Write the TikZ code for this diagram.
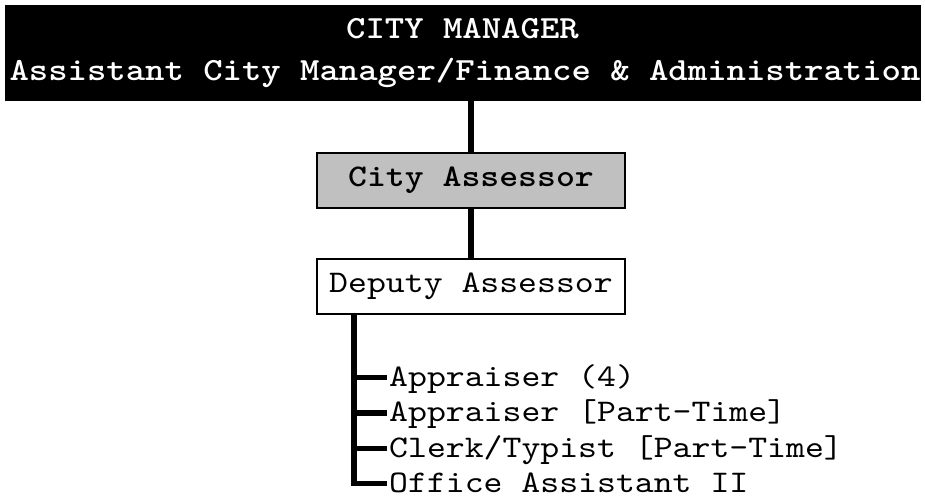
\documentclass[tikz,border=0pt]{standalone}
\usepackage{fontspec}
\newfontfamily\orgfont{lmmono10-regular.otf}[BoldFont=lmmonolt10-bold.otf, FakeStretch=1.143]
\usetikzlibrary{positioning}
\definecolor{boxgray}{HTML}{C0C0C0}
\tikzset{
  topbox/.style={fill=black, draw=black, minimum width=915pt, minimum height=95pt, inner sep=0pt},
  toptext/.style={text=white, inner sep=0pt, font=\orgfont\bfseries\fontsize{32.3}{40}\selectfont},
  orgbox/.style={draw=black, line width=2pt, minimum width=308pt, minimum height=55pt, inner sep=0pt,
    font=\orgfont\fontsize{31.5}{38}\selectfont},
  item/.style={inner sep=2pt, text height=22pt, text depth=5pt, font=\orgfont\fontsize{31.5}{38}\selectfont},
  link/.style={line width=6pt},
  bracket/.style={line width=5.5pt}
}

\begin{document}
\begin{tikzpicture}[x=1pt, y=-1pt]
\useasboundingbox (0,0) rectangle (925,499);
\node[topbox] (mgr) at (462.5,52.5) {};
\node[toptext, anchor=base] (mgrtitle) at (462.5,38) {CITY MANAGER};
\node[toptext, anchor=base] (acmtitle) at (465,80) {Assistant City Manager/Finance \& Administration};

\node[orgbox, fill=boxgray, font=\orgfont\bfseries\fontsize{31.5}{38}\selectfont] (assessor) at (471,180.5) {City Assessor};
\node[orgbox, fill=white] (deputy) at (471,286.5) {Deputy Assessor};

\draw[link] (mgr.south -| assessor.north) -- (assessor.north);
\draw[link] (assessor.south) -- (deputy.north);

% staff under the deputy
\node[item, anchor=base west] (app) at (387,386) {Appraiser (4)};
\node[item, anchor=base west] (appPT) at (387,421.5) {Appraiser [Part-Time]};
\node[item, anchor=base west] (clerk) at (387,457) {Clerk/Typist [Part-Time]};
\node[item, anchor=base west] (office) at (387,492) {Office Assistant II};

\coordinate (bartop) at ([xshift=38pt]deputy.south west);
\draw[bracket] (bartop) |- (office.west);
\foreach \n in {app, appPT, clerk}
  \draw[bracket] (bartop |- \n.west) -- (\n.west);
\end{tikzpicture}
\end{document}
